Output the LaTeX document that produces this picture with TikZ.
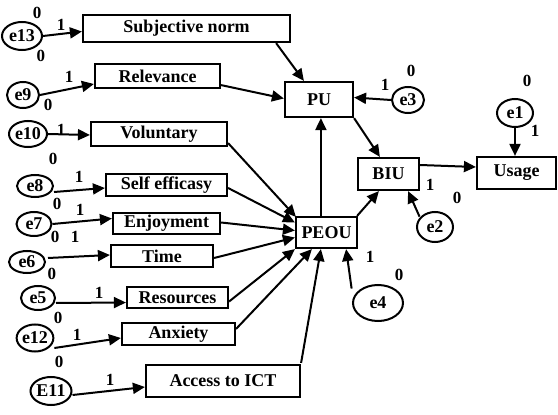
\documentclass[tikz,border=0pt]{standalone}
\usepackage{fontspec}
\setmainfont{Liberation Serif}
\usetikzlibrary{arrows.meta,shapes.geometric,calc}
\begin{document}
\begin{tikzpicture}[x=1pt,y=-1pt,
  font=\fontsize{18}{20}\selectfont\bfseries,
  box/.style={draw,line width=2.2pt,inner sep=0pt},
  err/.style={draw,ellipse,line width=2pt,inner sep=0pt},
  num/.style={inner sep=0pt,font=\fontsize{17}{18}\selectfont\bfseries},
  conn/.style={line width=2pt,-{Triangle[length=12pt,width=11pt]}}]
\useasboundingbox (0,0) rectangle (558,415);
% boxes
\node[box,minimum width=207pt,minimum height=27pt] (subj) at (186.5,28.5) {Subjective norm};
\node[box,minimum width=125pt,minimum height=24pt] (relev) at (157.5,76) {Relevance};
\node[box,minimum width=136pt,minimum height=24pt] (vol) at (159,134) {Voluntary};
\node[box,minimum width=121pt,minimum height=22pt] (self) at (166.5,185) {Self efficasy};
\node[box,minimum width=107pt,minimum height=21pt] (enj) at (166.5,223.5) {Enjoyment};
\node[box,minimum width=102pt,minimum height=22pt] (time) at (162,256) {Time};
\node[box,minimum width=101pt,minimum height=21pt] (res) at (177.5,297.5) {Resources};
\node[box,minimum width=113pt,minimum height=22pt] (anx) at (178.5,334) {Anxiety};
\node[box,minimum width=154pt,minimum height=32pt] (ict) at (223,381) {Access to ICT};
\node[box,minimum width=68pt,minimum height=35pt] (pu) at (319,99.5) {PU};
\node[box,minimum width=61pt,minimum height=32pt] (biu) at (388.5,174) {BIU};
\node[box,minimum width=79pt,minimum height=32pt] (usage) at (516.5,173) {Usage};
\node[box,minimum width=61pt,minimum height=31pt] (peou) at (326.5,232.5) {PEOU};
% error terms
\node[err,minimum width=40pt,minimum height=28pt] (e13) at (22,36) {e13};
\node[err,minimum width=32pt,minimum height=26pt] (e9) at (23,95) {e9};
\node[err,minimum width=38pt,minimum height=26pt] (e10) at (28,134) {e10};
\node[err,minimum width=36pt,minimum height=22pt] (e8) at (35,186) {e8};
\node[err,minimum width=35pt,minimum height=24pt] (e7) at (34,224) {e7};
\node[err,minimum width=36pt,minimum height=22pt] (e6) at (27,262) {e6};
\node[err,minimum width=34pt,minimum height=24pt] (e5) at (38,298) {e5};
\node[err,minimum width=34pt,minimum height=27pt] (e12) at (35,338) {e12};
\node[err,minimum width=38pt,minimum height=28pt] (e11) at (51,391) {E11};
\node[err,minimum width=32pt,minimum height=26pt] (e3) at (408,100) {e3};
\node[err,minimum width=36pt,minimum height=28pt] (e1) at (515,113) {e1};
\node[err,minimum width=36pt,minimum height=30pt] (e2) at (435,227) {e2};
\node[err,minimum width=50pt,minimum height=36pt] (e4) at (378,303) {e4};
% numbers
\node[num] (n1) at (37,13) {0};
\node[num] (n2) at (61,25) {1};
\node[num] (n3) at (41,56) {0};
\node[num] (n4) at (69,77) {1};
\node[num] (n5) at (48,105) {0};
\node[num] (n6) at (61,130) {1};
\node[num] (n7) at (53,159) {0};
\node[num] (n8) at (79,177) {1};
\node[num] (n9) at (57,204) {0};
\node[num] (n10) at (80,210) {1};
\node[num] (n11) at (55,237) {0};
\node[num] (n12) at (75,237) {1};
\node[num] (n13) at (52,274) {0};
\node[num] (n14) at (99,293) {1};
\node[num] (n15) at (58,318) {0};
\node[num] (n16) at (77,335) {1};
\node[num] (n17) at (59,362) {0};
\node[num] (n18) at (110,380) {1};
\node[num] (n19) at (385,85) {1};
\node[num] (n20) at (411,71) {0};
\node[num] (n21) at (527,81) {0};
\node[num] (n22) at (535,131) {1};
\node[num] (n23) at (430,185) {1};
\node[num] (n24) at (457,198) {0};
\node[num] (n25) at (370,257) {1};
\node[num] (n26) at (399,275) {0};
% error connectors
\draw[conn] (e13.east) -- ($(subj.west)+(0,3)$);
\draw[conn] (e9.east) -- ($(relev.west)+(0,8)$);
\draw[conn] (e10.east) -- ($(vol.west)+(0,1)$);
\draw[conn] ($(e8.east)+(0,6)$) -- ($(self.west)+(0,3)$);
\draw[conn] (e7.east) -- ($(enj.west)+(0,-5)$);
\draw[conn] ($(e6.east)+(2,-4)$) -- ($(time.west)+(0,-1)$);
\draw[conn] ($(e5.east)+(0,5)$) -- ($(res.west)+(0,5)$);
\draw[conn] ($(e12.east)+(0,10)$) -- ($(anx.west)+(0,4)$);
\draw[conn] ($(e11.east)+(0,4)$) -- ($(ict.west)+(0,6)$);
% into PU
\draw[conn] ($(subj.south east)+(-15,0)$) -- ($(pu.north west)+(20,0)$);
\draw[conn] ($(relev.south east)+(0,-4)$) -- ($(pu.west)+(0,-1)$);
\draw[conn] (e3.west) -- ($(pu.east)+(0,-2)$);
% into PEOU
\draw[conn] ($(vol.south east)+(0,-4)$) -- ($(peou.north west)+(1,1)$);
\draw[conn] ($(self.east)+(0,3)$) -- ($(peou.west)+(0,-10)$);
\draw[conn] ($(enj.east)+(0,-1)$) -- ($(peou.west)+(0,-2)$);
\draw[conn] ($(time.east)+(0,2)$) -- ($(peou.west)+(0,5)$);
\draw[conn] ($(res.east)+(0,4)$) -- (peou.south west);
\draw[conn] ($(anx.north east)+(0,7)$) -- ($(peou.south west)+(17,0)$);
\draw[conn] ($(ict.north east)+(0,-1)$) -- ($(peou.south west)+(26,0)$);
\draw[conn] ($(e4.north west)+(-8,-1)$) -- ($(peou.south east)+(-12,0)$);
% structural paths
\draw[conn] ($(peou.north west)+(26,0)$) -- ($(pu.south west)+(37,0)$);
\draw[conn] ($(peou.north east)+(-1,0)$) -- ($(biu.south west)+(22,0)$);
\draw[conn] (pu.south east) -- ($(biu.north west)+(23,0)$);
\draw[conn] ($(e2.north west)+(-2,1)$) -- ($(biu.south east)+(-12,0)$);
\draw[conn] ($(biu.east)+(0,-9)$) -- ($(usage.west)+(0,-6)$);
\draw[conn] (e1.south) -- (e1.south |- usage.north);
\end{tikzpicture}
\end{document}
